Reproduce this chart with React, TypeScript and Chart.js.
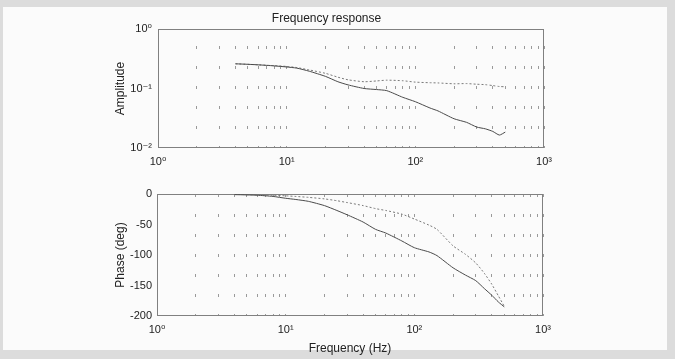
import React, { useEffect, useRef } from "react";
import { Chart, registerables } from "chart.js";

Chart.register(...registerables);

// ---- data ----
const FREQ = [4, 5, 6, 8, 10, 12, 15, 20, 25, 30, 40, 50, 60, 80, 100, 130, 150, 200, 250, 300, 350, 400, 450, 500];
const AMP_A = [0.26, 0.255, 0.25, 0.24, 0.23, 0.22, 0.195, 0.16, 0.13, 0.115, 0.1, 0.096, 0.092, 0.071, 0.06, 0.047, 0.042, 0.031, 0.027, 0.0225, 0.021, 0.019, 0.0165, 0.0185];
const AMP_B = [0.26, 0.255, 0.25, 0.242, 0.235, 0.225, 0.205, 0.18, 0.155, 0.14, 0.13, 0.134, 0.138, 0.135, 0.128, 0.125, 0.124, 0.12, 0.121, 0.118, 0.116, 0.112, 0.108, 0.107];
const PHASE_A = [-1, -1.5, -2, -4, -7, -9, -12, -19, -27, -34, -46, -58, -64, -77, -88, -95, -101, -121, -133, -142, -155, -166, -177, -185];
const PHASE_B = [-0.5, -1, -1.5, -2, -3, -4, -5.5, -8, -11, -14, -19, -24, -27, -33, -41, -51, -58, -85, -99, -113, -130, -148, -167, -184];

const X_GRID = [1, 2, 3, 4, 5, 6, 7, 8, 9, 10, 20, 30, 40, 50, 60, 70, 80, 90, 100, 200, 300, 400, 500, 600, 700, 800, 900, 1000];
const AMP_TICKS = [0.01, 0.1, 1];
const PHASE_TICKS = [-200, -150, -100, -50, 0];

const SUP: Record<string, string> = { "0": "⁰", "1": "¹", "2": "²", "3": "³", "-": "⁻" };
const pow10Label = (v: number) => {
  const e = Math.round(Math.log10(v));
  if (Math.abs(Math.pow(10, e) - v) > 1e-9 * Math.max(1, v)) return "";
  return "10" + String(e).split("").map((c) => SUP[c] || c).join("");
};

const FONT = "'Liberation Sans', 'DejaVu Sans', Arial, sans-serif";
const TXT = "#222";

const framePlugin = {
  id: "frame",
  beforeDatasetsDraw(chart: any) {
    const { ctx, chartArea: a } = chart;
    ctx.save();
    ctx.strokeStyle = "#808080";
    ctx.lineWidth = 1;
    ctx.strokeRect(Math.round(a.left) + 0.5, Math.round(a.top) + 0.5, Math.round(a.right - a.left) - 1, Math.round(a.bottom - a.top) - 1);
    ctx.restore();
  },
};

const pts = (ys: number[]) => FREQ.map((x, i) => ({ x, y: ys[i] }));

function xScale(height: number, dashOffset: number, title?: string) {
  return {
    type: "logarithmic",
    min: 1,
    max: 1000,
    afterBuildTicks: (s: any) => {
      s.ticks = X_GRID.map((v) => ({ value: v }));
    },
    afterFit: (s: any) => {
      s.height = height;
    },
    grid: {
      display: true,
      drawTicks: false,
      color: "#9a9a9a",
      lineWidth: 1,
    },
    border: { display: false, dash: [3, 17], dashOffset },
    ticks: {
      autoSkip: false,
      maxRotation: 0,
      padding: 7,
      color: TXT,
      font: { family: FONT, size: 11 },
      callback: (v: any) => pow10Label(Number(v)),
    },
    title: title
      ? { display: true, text: title, color: TXT, font: { family: FONT, size: 12 }, padding: { top: 0, bottom: 3 } }
      : { display: false },
  };
}

function AmpChart() {
  const ref = useRef<HTMLCanvasElement>(null);
  useEffect(() => {
    const chart = new Chart(ref.current!, {
      type: "line",
      data: {
        datasets: [
          { data: pts(AMP_A), borderColor: "#4a4a4a", borderWidth: 1, pointRadius: 0, tension: 0.2 },
          { data: pts(AMP_B), borderColor: "#7a7a7a", borderWidth: 1, borderDash: [2, 2], pointRadius: 0, tension: 0.2 },
        ],
      },
      options: {
        animation: false,
        responsive: false,
        events: [],
        layout: { padding: { left: 109, right: 131, top: 0, bottom: 0 } },
        plugins: {
          legend: { display: false },
          tooltip: { enabled: false },
          title: {
            display: true,
            text: "Frequency response",
            color: TXT,
            font: { family: FONT, size: 12, weight: "normal" },
            padding: { top: 11, bottom: 3.6 },
          },
        },
        scales: {
          x: xScale(27, 3),
          y: {
            type: "logarithmic",
            min: 0.01,
            max: 1,
            afterBuildTicks: (s: any) => {
              s.ticks = AMP_TICKS.map((v) => ({ value: v }));
            },
            afterFit: (s: any) => {
              s.width = 49;
            },
            grid: { display: false, drawTicks: false },
            border: { display: false },
            ticks: {
              padding: 6,
              color: TXT,
              font: { family: FONT, size: 11 },
              callback: (v: any) => pow10Label(Number(v)),
            },
            title: { display: true, text: "Amplitude", color: TXT, font: { family: FONT, size: 12 } },
          },
        },
      } as any,
      plugins: [framePlugin],
    });
    return () => chart.destroy();
  }, []);
  return <canvas ref={ref} width={675} height={175} style={{ position: "absolute", left: 0, top: 0 }} />;
}

function PhaseChart() {
  const ref = useRef<HTMLCanvasElement>(null);
  useEffect(() => {
    const chart = new Chart(ref.current!, {
      type: "line",
      data: {
        datasets: [
          { data: pts(PHASE_A), borderColor: "#4a4a4a", borderWidth: 1, pointRadius: 0, tension: 0.2 },
          { data: pts(PHASE_B), borderColor: "#7a7a7a", borderWidth: 1, borderDash: [2, 2], pointRadius: 0, tension: 0.2 },
        ],
      },
      options: {
        animation: false,
        responsive: false,
        events: [],
        layout: { padding: { left: 109, right: 132, top: 19, bottom: 0 } },
        plugins: { legend: { display: false }, tooltip: { enabled: false }, title: { display: false } },
        scales: {
          x: xScale(43, 0, "Frequency (Hz)"),
          y: {
            type: "linear",
            min: -200,
            max: 0,
            afterBuildTicks: (s: any) => {
              s.ticks = PHASE_TICKS.map((v) => ({ value: v }));
            },
            afterFit: (s: any) => {
              s.width = 48;
            },
            grid: { display: false, drawTicks: false },
            border: { display: false },
            ticks: {
              padding: 5,
              color: TXT,
              font: { family: FONT, size: 11 },
            },
            title: { display: true, text: "Phase (deg)", color: TXT, font: { family: FONT, size: 12 } },
          },
        },
      } as any,
      plugins: [framePlugin],
    });
    return () => chart.destroy();
  }, []);
  return <canvas ref={ref} width={675} height={184} style={{ position: "absolute", left: 0, top: 175 }} />;
}

export default function App() {
  useEffect(() => {
    document.body.style.margin = "0";
  }, []);
  return (
    <div style={{ position: "relative", width: 675, height: 359, background: "#dcdcdc", overflow: "hidden" }}>
      <div style={{ position: "absolute", left: 3, top: 7, width: 664, height: 343, background: "#fbfbfb" }} />
      <AmpChart />
      <PhaseChart />
    </div>
  );
}
